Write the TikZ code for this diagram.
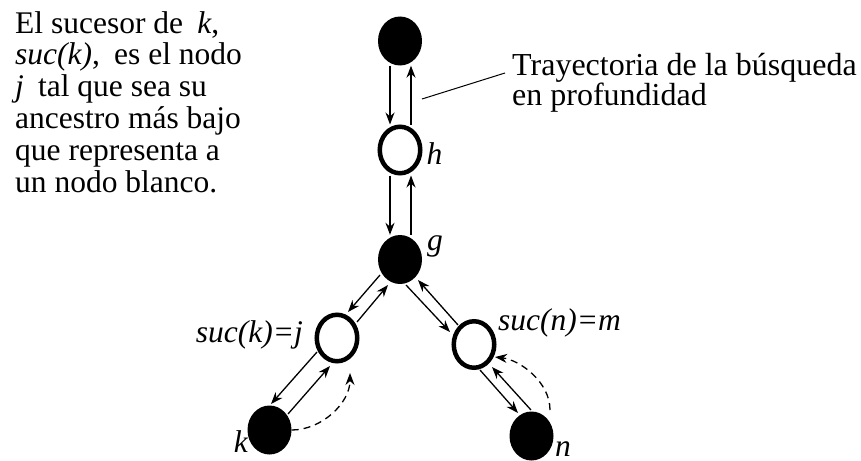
\documentclass[tikz,border=0pt]{standalone}
\usepackage{fontspec}
\setmainfont{Liberation Serif}
\usetikzlibrary{arrows.meta, shapes.geometric, positioning}

\begin{document}
\begin{tikzpicture}[
  x=1pt, y=-1pt,
  treenode/.style={ellipse, inner sep=0pt},
  blacknode/.style={treenode, fill=black, minimum width=44pt, minimum height=49pt},
  whitenode/.style={treenode, draw=black, fill=white, line width=4.5pt,
    minimum width=40.5pt, minimum height=46.5pt},
  txt/.style={font=\fontsize{31.5}{31.8}\selectfont, inner sep=0pt, align=left},
  lbl/.style={font=\fontsize{31.5}{31.8}\selectfont\itshape, inner sep=0pt},
  arr/.style={-{Stealth[length=12pt, width=9pt]}, line width=1.3pt},
  backarr/.style={arr, dash pattern=on 7pt off 5pt}
]
\useasboundingbox (0,0) rectangle (861,460);

% Tree
\node[blacknode] (top) at (400,41) {};
\node[whitenode] (h) at (400,150) {};
\node[blacknode] (g) at (400,259.5) {};
\node[whitenode] (j) at (337,338) {};
\node[blacknode] (k) at (269.5,430) {};
\node[whitenode] (m) at (474,344.5) {};
\node[blacknode] (n) at (531.5,436) {};

% Labels
\node[lbl, right=4pt of h, yshift=-4pt] (hlbl) {h};
\node[lbl, anchor=base west] (glbl) at ([shift={(27,-9.5)}]g.center) {g};
\node[lbl, anchor=base east] (jlbl) at ([shift={(-34,4)}]j.center) {suc(k)=j};
\node[lbl, anchor=base east] (klbl) at ([shift={(-21.5,22)}]k.center) {k};
\node[lbl, anchor=base west] (mlbl) at ([shift={(24,-14.5)}]m.center) {suc(n)=m};
\node[lbl, anchor=base west] (nlbl) at ([shift={(23.5,20)}]n.center) {n};

% Texts (base = last line)
\node[txt, anchor=base west] (desc) at (15,192) {El sucesor de\hspace{0.45em}\textit{k},\\
  \textit{suc(k)},\hspace{0.45em}es el nodo\\ \textit{j}\hspace{0.45em}tal que sea su\\
  ancestro más bajo\\ que representa a\\ un nodo blanco.};
\node[txt, font=\fontsize{32}{30}\selectfont, anchor=base west] (traj) at (512,105)
  {Trayectoria de la búsqueda\\ en profundidad};
\coordinate (lead) at ([shift={(22,58)}]top.center);
\draw[line width=1pt] (lead) -- ([shift={(-7,-32)}]traj.base west);

% Search path, going down and back up
\draw[arr] ([xshift=-10pt]top.south) -- ([xshift=-10pt]h.north);
\draw[arr] ([xshift=11pt]h.north) -- ([xshift=11pt]top.south);
\draw[arr] ([xshift=-10pt]h.south) -- ([xshift=-10pt]g.north);
\draw[arr] ([xshift=11pt]g.north) -- ([xshift=11pt]h.south);
\draw[arr] ([shift={(-20,15.5)}]g.center) -- ([shift={(11,-26)}]j.center);
\draw[arr] ([shift={(20,-16)}]j.center) -- ([shift={(-12,25.5)}]g.center);
\draw[arr] ([shift={(-20,14)}]j.center) -- ([shift={(1.5,-26)}]k.center);
\draw[arr] ([shift={(18.5,-16)}]k.center) -- ([shift={(-7,28)}]j.center);
\draw[arr] ([shift={(6,25.5)}]g.center) -- ([shift={(-24,-12.5)}]m.center);
\draw[arr] ([shift={(-16,-19.5)}]m.center) -- ([shift={(18,20.5)}]g.center);
\draw[arr] ([shift={(6,25.5)}]m.center) -- ([shift={(-13.5,-23)}]n.center);
\draw[arr] ([shift={(-0.5,-26)}]n.center) -- ([shift={(18,22.5)}]m.center);

% suc links
\draw[backarr] (k.east) .. controls +(30,0) and +(0,30) .. ([shift={(13,35)}]j.center);
\draw[backarr] ([shift={(18.5,-26)}]n.center) .. controls +(0,-28) and +(25,3)
  .. ([shift={(21,12.5)}]m.center);
\end{tikzpicture}
\end{document}
